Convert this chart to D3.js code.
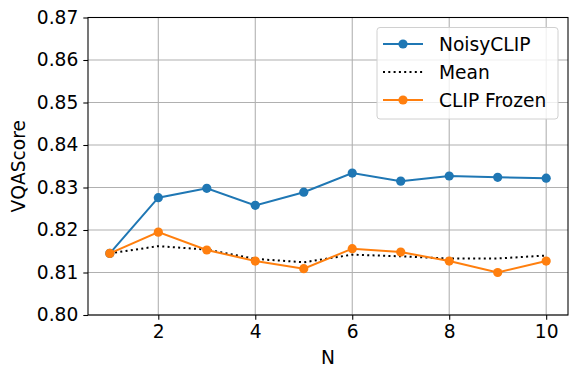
<!DOCTYPE html>
<html>
<head>
<meta charset="utf-8">
<script src="https://cdn.jsdelivr.net/npm/d3@7"></script>
<style>
  body { margin: 0; background: #fff; }
  text { font-family: "DejaVu Sans", sans-serif; }
</style>
</head>
<body>
<svg id="chart" width="577" height="378"></svg>
<script>
var nValues = [1, 2, 3, 4, 5, 6, 7, 8, 9, 10];
var noisyClip = [0.8145, 0.8276, 0.8298, 0.8258, 0.8289, 0.8334, 0.8315, 0.8327, 0.8324, 0.8322];
var meanScore = [0.8145, 0.8162, 0.8154, 0.8132, 0.8124, 0.8142, 0.8138, 0.8133, 0.8133, 0.8140];
var clipFrozen = [0.8145, 0.8195, 0.8153, 0.8127, 0.8109, 0.8156, 0.8148, 0.8127, 0.8100, 0.8127];
var xTicks = [2, 4, 6, 8, 10];
var yTicks = [0.80, 0.81, 0.82, 0.83, 0.84, 0.85, 0.86, 0.87];

var fontSize = '18.67px';
var margin = { left: 88, right: 9, top: 17.5, bottom: 63 };
var width = 577, height = 378;
var svg = d3.select('#chart');

var x = d3.scaleLinear().domain([0.55, 10.45]).range([margin.left, width - margin.right]);
var y = d3.scaleLinear().domain([0.80, 0.87]).range([height - margin.bottom, margin.top]);

var plot = svg.append('g');

// grid
plot.selectAll('.vgrid').data(xTicks).enter().append('line')
  .attr('x1', x).attr('x2', x)
  .attr('y1', y(0.80)).attr('y2', y(0.87))
  .attr('stroke', '#b0b0b0').attr('stroke-width', 1.07);
plot.selectAll('.hgrid').data(yTicks).enter().append('line')
  .attr('y1', y).attr('y2', y)
  .attr('x1', x.range()[0]).attr('x2', x.range()[1])
  .attr('stroke', '#b0b0b0').attr('stroke-width', 1.07);

var series = [
  { name: 'NoisyCLIP', values: noisyClip, color: '#1f77b4', dots: true },
  { name: 'Mean', values: meanScore, color: '#000000', dots: false },
  { name: 'CLIP Frozen', values: clipFrozen, color: '#ff7f0e', dots: true }
];

var line = d3.line()
  .x(function (d, i) { return x(nValues[i]); })
  .y(function (d) { return y(d); });

series.forEach(function (s) {
  plot.append('path')
    .datum(s.values)
    .attr('d', line)
    .attr('fill', 'none')
    .attr('stroke', s.color)
    .attr('stroke-width', 2)
    .attr('stroke-dasharray', s.dots ? null : '2,3.3');
  if (s.dots) {
    plot.selectAll(null).data(s.values).enter().append('circle')
      .attr('cx', function (d, i) { return x(nValues[i]); })
      .attr('cy', y)
      .attr('r', 4.6)
      .attr('fill', s.color);
  }
});

// axes
var xAxis = d3.axisBottom(x).tickValues(xTicks).tickSize(4.7).tickPadding(5.5).tickFormat(d3.format('d'));
var yAxis = d3.axisLeft(y).tickValues(yTicks).tickSize(4.7).tickPadding(5).tickFormat(d3.format('.2f'));

var gx = svg.append('g').attr('transform', 'translate(0,' + y(0.80) + ')').call(xAxis);
var gy = svg.append('g').attr('transform', 'translate(' + x(0.55) + ',0)').call(yAxis);
[gx, gy].forEach(function (g) {
  g.select('.domain').remove();
  g.attr('font-size', null).attr('font-family', null);
  g.selectAll('line').attr('stroke', '#000').attr('stroke-width', 1.07);
  g.selectAll('text').style('font-size', fontSize).attr('fill', '#000');
});

// frame
svg.append('rect')
  .attr('x', x(0.55)).attr('y', y(0.87))
  .attr('width', x(10.45) - x(0.55)).attr('height', y(0.80) - y(0.87))
  .attr('fill', 'none').attr('stroke', '#000').attr('stroke-width', 1.07);

// axis labels
svg.append('text').attr('x', (x(0.55) + x(10.45)) / 2).attr('y', 364)
  .attr('text-anchor', 'middle').style('font-size', fontSize).text('N');
svg.append('text')
  .attr('transform', 'translate(25,' + (y(0.80) + y(0.87)) / 2 + ') rotate(-90)')
  .attr('text-anchor', 'middle').style('font-size', fontSize).text('VQAScore');

// legend
var legend = svg.append('g').attr('transform', 'translate(377,27.5)');
legend.append('rect')
  .attr('width', 181).attr('height', 91.5).attr('rx', 3)
  .attr('fill', '#fff').attr('fill-opacity', 0.8)
  .attr('stroke', '#d0d0d0').attr('stroke-width', 1);
series.forEach(function (s, i) {
  var ly = 16.5 + i * 28;
  legend.append('line')
    .attr('x1', 6).attr('x2', 46).attr('y1', ly).attr('y2', ly)
    .attr('stroke', s.color).attr('stroke-width', 2)
    .attr('stroke-dasharray', s.dots ? null : '2,3.3');
  if (s.dots) {
    legend.append('circle').attr('cx', 26).attr('cy', ly).attr('r', 4.6).attr('fill', s.color);
  }
  legend.append('text').attr('x', 62).attr('y', ly).attr('dy', '0.35em')
    .style('font-size', fontSize).text(s.name);
});
</script>
</body>
</html>
